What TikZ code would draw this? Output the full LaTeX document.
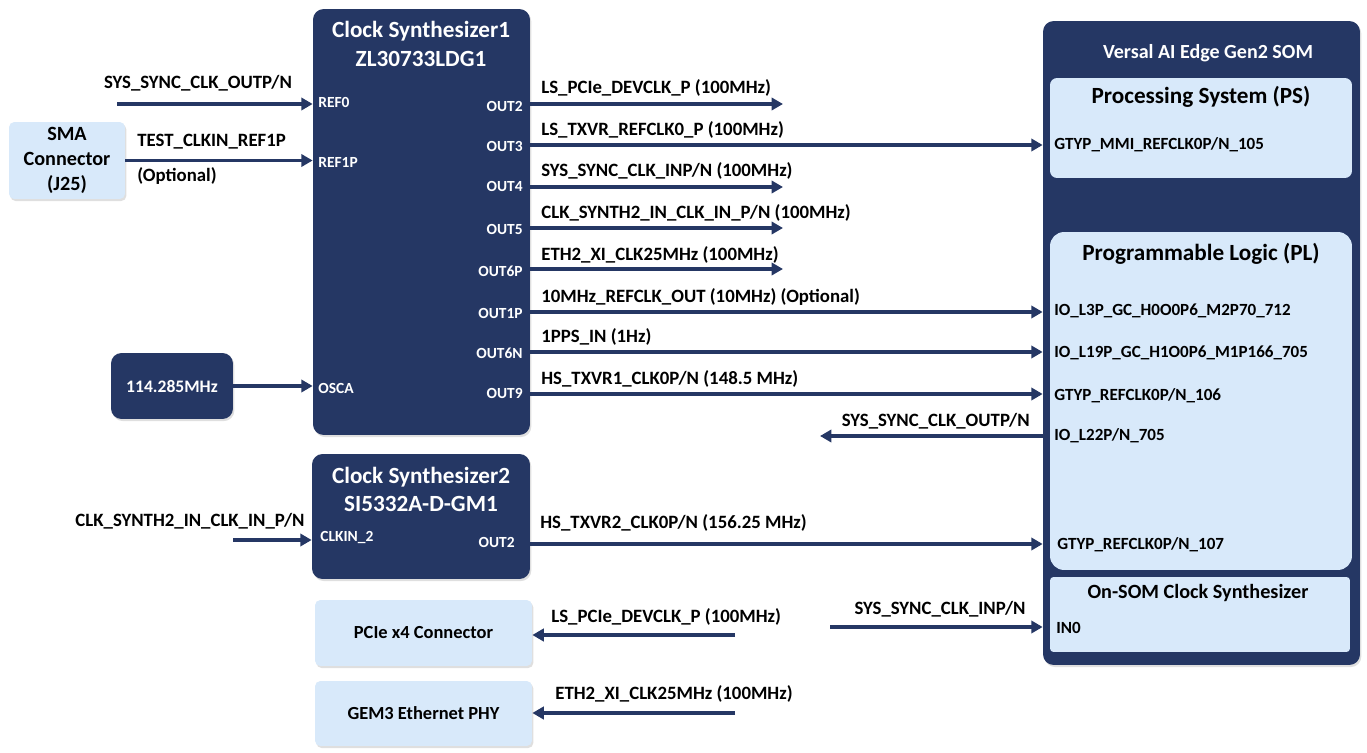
\documentclass[tikz,border=0pt]{standalone}
\usepackage{fontspec}
\setmainfont{Carlito}
\usepackage{tikz}
\usetikzlibrary{arrows.meta, positioning, calc, shadows}
\definecolor{cnavy}{HTML}{253764}
\definecolor{clight}{HTML}{D8E9FA}

\tikzset{
  darkbox/.style={fill=cnavy, rounded corners=6pt, inner sep=0pt,
    drop shadow={opacity=0.25, shadow xshift=0.8pt, shadow yshift=-1.2pt}},
  lightbox/.style={fill=clight, rounded corners=3pt, inner sep=0pt, align=center,
    font=\fontsize{10.5}{13}\selectfont\bfseries,
    drop shadow={opacity=0.25, shadow xshift=0.8pt, shadow yshift=-1.2pt}},
  innerbox/.style={fill=clight, rounded corners=4pt, inner sep=0pt},
  sig/.style={draw=cnavy, line width=2.1pt, -{Triangle[length=6.5pt,width=7pt]}},
  lbl/.style={font=\fontsize{10.7}{12}\selectfont\bfseries, inner sep=0pt},
  pinl/.style={font=\fontsize{8.8}{10}\selectfont\bfseries, text=white, inner sep=0pt},
  somlbl/.style={font=\fontsize{9.7}{11}\selectfont\bfseries, inner sep=0pt, anchor=west},
  title/.style={font=\fontsize{13.2}{16}\selectfont\bfseries, inner sep=0pt, align=center}
}

\begin{document}
\begin{tikzpicture}[x=0.02cm, y=-0.02cm]
  \useasboundingbox (0,0) rectangle (1367,753);

  % SOM on the right
  \node[darkbox, minimum width=6.34cm, minimum height=12.88cm] (som) at (1201.5,343) {};
  \node[innerbox, minimum width=6.04cm, minimum height=2.0cm] (ps) at (1201,128) {};
  \node[innerbox, rounded corners=8pt, minimum width=6.04cm, minimum height=6.76cm] (pl) at (1201,401) {};
  \node[innerbox, rounded corners=2pt, minimum width=6.0cm, minimum height=1.5cm] (onsom) at (1200,614.5) {};
  \node[lbl, text=white, font=\fontsize{11.4}{13}\selectfont\bfseries] (somtitle) at (1208,53) {Versal AI Edge Gen2 SOM};
  \node[title] (pstitle) at (1201,97) {Processing System (PS)};
  \node[title] (pltitle) at (1201,254) {Programmable Logic (PL)};
  \node[title, font=\fontsize{11.5}{13}\selectfont\bfseries] (ontitle) at (1198,593) {On-SOM Clock Synthesizer};
  \node[somlbl] (g105) at (1054,145) {GTYP\_MMI\_REFCLK0P/N\_105};
  \node[somlbl] (l3p) at (1054,311) {IO\_L3P\_GC\_H0O0P6\_M2P70\_712};
  \node[somlbl] (l19p) at (1054,353) {IO\_L19P\_GC\_H1O0P6\_M1P166\_705};
  \node[somlbl] (g106) at (1054,396) {GTYP\_REFCLK0P/N\_106};
  \node[somlbl] (l22p) at (1054,436) {IO\_L22P/N\_705};
  \node[somlbl] (g107) at (1057,545) {GTYP\_REFCLK0P/N\_107};
  \node[somlbl] (in0) at (1056,628) {IN0};

  % Clock synthesizer 1
  \node[darkbox, minimum width=4.34cm, minimum height=8.52cm] (s1) at (421.5,222) {};
  \node[title, text=white] (s1title) at (421,44) {Clock Synthesizer1\\ZL30733LDG1};
  \node[pinl, anchor=west] (ref0) at (318,102) {REF0};
  \node[pinl, anchor=west] (ref1p) at (318,162) {REF1P};
  \node[pinl, anchor=west] (osca) at (318,388) {OSCA};
  \node[pinl, anchor=east] (out2) at (523,106) {OUT2};
  \node[pinl, anchor=east] (out3) at (523,146) {OUT3};
  \node[pinl, anchor=east] (out4) at (523,186) {OUT4};
  \node[pinl, anchor=east] (out5) at (523,229) {OUT5};
  \node[pinl, anchor=east] (out6p) at (523,271) {OUT6P};
  \node[pinl, anchor=east] (out1p) at (523,313) {OUT1P};
  \node[pinl, anchor=east] (out6n) at (523,353) {OUT6N};
  \node[pinl, anchor=east] (out9) at (523,393) {OUT9};

  % Clock synthesizer 2
  \node[darkbox, minimum width=4.36cm, minimum height=2.5cm] (s2) at (421,516.5) {};
  \node[title, text=white] (s2title) at (421,489) {Clock Synthesizer2\\SI5332A-D-GM1};
  \node[pinl, anchor=west] (clkin) at (320,538) {CLKIN\_2};
  \node[pinl, anchor=east] (s2out) at (515,542) {OUT2};

  % sources and loads
  \node[lightbox, minimum width=2.32cm, minimum height=1.54cm, font=\fontsize{11.5}{14}\selectfont\bfseries] (sma) at (67,160.5) {SMA\\Connector\\(J25)};
  \node[darkbox, text=white, font=\fontsize{10}{11}\selectfont\bfseries, minimum width=2.44cm, minimum height=1.32cm] (osc) at (172,386) {114.285MHz};
  \node[lightbox, minimum width=4.34cm, minimum height=1.32cm] (pcie) at (423.5,633) {PCIe x4 Connector};
  \node[lightbox, minimum width=4.34cm, minimum height=1.3cm] (gem) at (423.5,713.5) {GEM3 Ethernet PHY};

  % free ends
  \coordinate (inref0) at (117,104);
  \coordinate (ins2) at (233,540);
  \coordinate (e2) at (783,104);
  \coordinate (e4) at (783,187);
  \coordinate (e5) at (783,228);
  \coordinate (e6p) at (783,269);
  \coordinate (esync) at (820,436);
  \coordinate (epcie) at (735,635);
  \coordinate (egem) at (735,713);
  \coordinate (ein0) at (830,627);

  % inputs
  \draw[sig] (inref0) -- (inref0 -| s1.west);
  \draw[sig] (sma.east) -- (sma.east -| s1.west);
  \draw[sig] (osc.east) -- (osc.east -| s1.west);
  \draw[sig] (ins2) -- (ins2 -| s2.west);
  \node[lbl] (lref0) at (198,83) {SYS\_SYNC\_CLK\_OUTP/N};
  \node[lbl, anchor=west] (lref1p) at (137,142) {TEST\_CLKIN\_REF1P};
  \node[lbl, anchor=west] (lopt) at (137,176) {(Optional)};
  \node[lbl] (ls2in) at (190,521) {CLK\_SYNTH2\_IN\_CLK\_IN\_P/N};

  % outputs of synthesizer 1
  \draw[sig] (e2 -| s1.east) -- (e2);
  \draw[sig] (s1.east |- 0,145) -- (som.west |- 0,145);
  \draw[sig] (e4 -| s1.east) -- (e4);
  \draw[sig] (e5 -| s1.east) -- (e5);
  \draw[sig] (e6p -| s1.east) -- (e6p);
  \draw[sig] (s1.east |- 0,312) -- (som.west |- 0,312);
  \draw[sig] (s1.east |- 0,352) -- (som.west |- 0,352);
  \draw[sig] (s1.east |- 0,394) -- (som.west |- 0,394);
  \draw[sig] (esync -| som.west) -- (esync);
  \node[lbl, anchor=west] at (541,88) {LS\_PCIe\_DEVCLK\_P (100MHz)};
  \node[lbl, anchor=west] at (541,130) {LS\_TXVR\_REFCLK0\_P (100MHz)};
  \node[lbl, anchor=west] at (541,171) {SYS\_SYNC\_CLK\_INP/N (100MHz)};
  \node[lbl, anchor=west] at (541,213) {CLK\_SYNTH2\_IN\_CLK\_IN\_P/N (100MHz)};
  \node[lbl, anchor=west] at (541,255) {ETH2\_XI\_CLK25MHz (100MHz)};
  \node[lbl, anchor=west] at (541,297) {10MHz\_REFCLK\_OUT (10MHz) (Optional)};
  \node[lbl, anchor=west] at (541,337) {1PPS\_IN (1Hz)};
  \node[lbl, anchor=west] at (541,379) {HS\_TXVR1\_CLK0P/N (148.5 MHz)};
  \node[lbl, anchor=east] at (1030,421) {SYS\_SYNC\_CLK\_OUTP/N};

  % synthesizer 2 and loads
  \draw[sig] (s2.east |- 0,544) -- (som.west |- 0,544);
  \draw[sig] (epcie) -- (epcie -| pcie.east);
  \draw[sig] (egem) -- (egem -| gem.east);
  \draw[sig] (ein0) -- (ein0 -| som.west);
  \node[lbl, anchor=west] at (540,523) {HS\_TXVR2\_CLK0P/N (156.25 MHz)};
  \node[lbl, anchor=west] at (551,617) {LS\_PCIe\_DEVCLK\_P (100MHz)};
  \node[lbl, anchor=west] at (555,694) {ETH2\_XI\_CLK25MHz (100MHz)};
  \node[lbl] at (940,609) {SYS\_SYNC\_CLK\_INP/N};
\end{tikzpicture}
\end{document}
